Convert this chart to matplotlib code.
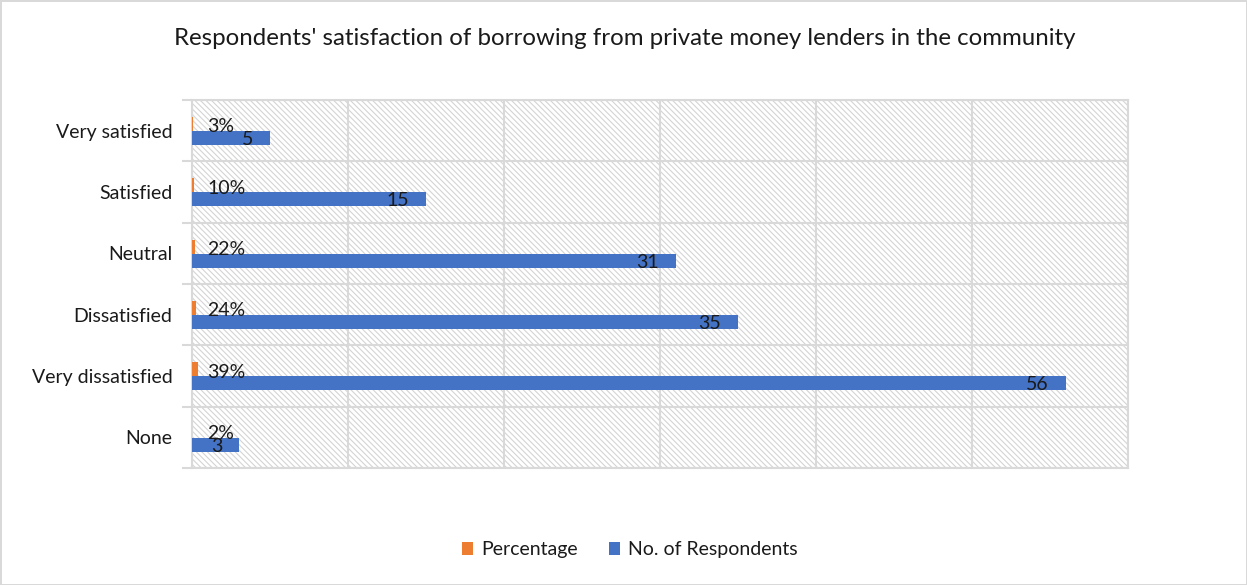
import matplotlib
matplotlib.use("Agg")
import matplotlib.pyplot as plt
from matplotlib.patches import Rectangle
from matplotlib.patches import Patch

plt.rcParams['font.family'] = ['Lato', 'DejaVu Sans']
plt.rcParams['hatch.linewidth'] = 0.8

categories = ["Very satisfied", "Satisfied", "Neutral", "Dissatisfied",
              "Very dissatisfied", "None"]
respondents = [5, 15, 31, 35, 56, 3]
percentage = [0.03, 0.10, 0.22, 0.24, 0.39, 0.02]
pct_labels = ["3%", "10%", "22%", "24%", "39%", "2%"]

ORANGE = "#ed7d31"
BLUE = "#4472c4"
GRID = "#d9d9d9"
TEXT = "#1a1a1a"

fig = plt.figure(figsize=(12.47, 5.85), dpi=100)
fig.patch.set_facecolor("white")
fig.patch.set_edgecolor(GRID)
fig.patch.set_linewidth(2)

ax = fig.add_axes([0.154, 0.2, 0.7506, 0.629])

# hatched plot area background
bg = Rectangle((0, 0), 1, 1, transform=ax.transAxes, facecolor="white",
               edgecolor="#d4d4d4", linewidth=0, hatch="\\\\\\\\\\\\", zorder=0)
ax.add_patch(bg)

y = list(range(len(categories)))
h = 0.23
y_pct = [v - 0.11 for v in y]
y_cnt = [v + 0.12 for v in y]
ax.barh(y_pct, percentage, height=h, color=ORANGE, zorder=3)
ax.barh(y_cnt, respondents, height=h, color=BLUE, zorder=3)

for yy, lab in zip(y_pct, pct_labels):
    ax.annotate(lab, xy=(0, yy), xytext=(11, -2), textcoords="offset points",
                ha="left", va="center", fontsize=14, color=TEXT, zorder=5)
for yy, v in zip(y_cnt, respondents):
    ax.annotate(f"{v}", xy=(v, yy), xytext=(-12, -1), textcoords="offset points",
                ha="right", va="center", fontsize=14, color=TEXT, zorder=5)

ax.set_xlim(0, 60)
ax.set_ylim(len(categories) - 0.5, -0.5)
ax.set_xticks(range(0, 61, 10))
ax.set_xticklabels([])
ax.tick_params(axis="x", length=0)
ax.grid(axis="x", color=GRID, linewidth=1.5, zorder=1)

ax.set_yticks(y)
ax.set_yticklabels(categories, fontsize=14, color=TEXT)
ax.tick_params(axis="y", which="major", length=0, pad=14)
ax.set_yticks([v - 0.5 for v in range(len(categories) + 1)], minor=True)
ax.tick_params(axis="y", which="minor", length=7, width=1.5, color=GRID)
ax.grid(axis="y", which="minor", color=GRID, linewidth=1.5, zorder=1)
ax.set_axisbelow(True)

for side in ["top", "right", "bottom", "left"]:
    ax.spines[side].set_color(GRID)
    ax.spines[side].set_linewidth(1.5)

fig.text(0.501, 0.935, "Respondents' satisfaction of borrowing from private money lenders in the community",
         ha="center", va="center", fontsize=17.3, color=TEXT)

handles = [Patch(facecolor=ORANGE, label="Percentage"),
           Patch(facecolor=BLUE, label="No. of Respondents")]
fig.legend(handles=handles, loc="center", bbox_to_anchor=(0.505, 0.06), ncol=2,
           frameon=False, fontsize=14, handlelength=0.6, handleheight=0.6,
           handletextpad=0.4, columnspacing=1.6, labelcolor=TEXT)

fig.savefig("out.png", dpi=100, facecolor=fig.get_facecolor(),
            edgecolor=fig.get_edgecolor())
